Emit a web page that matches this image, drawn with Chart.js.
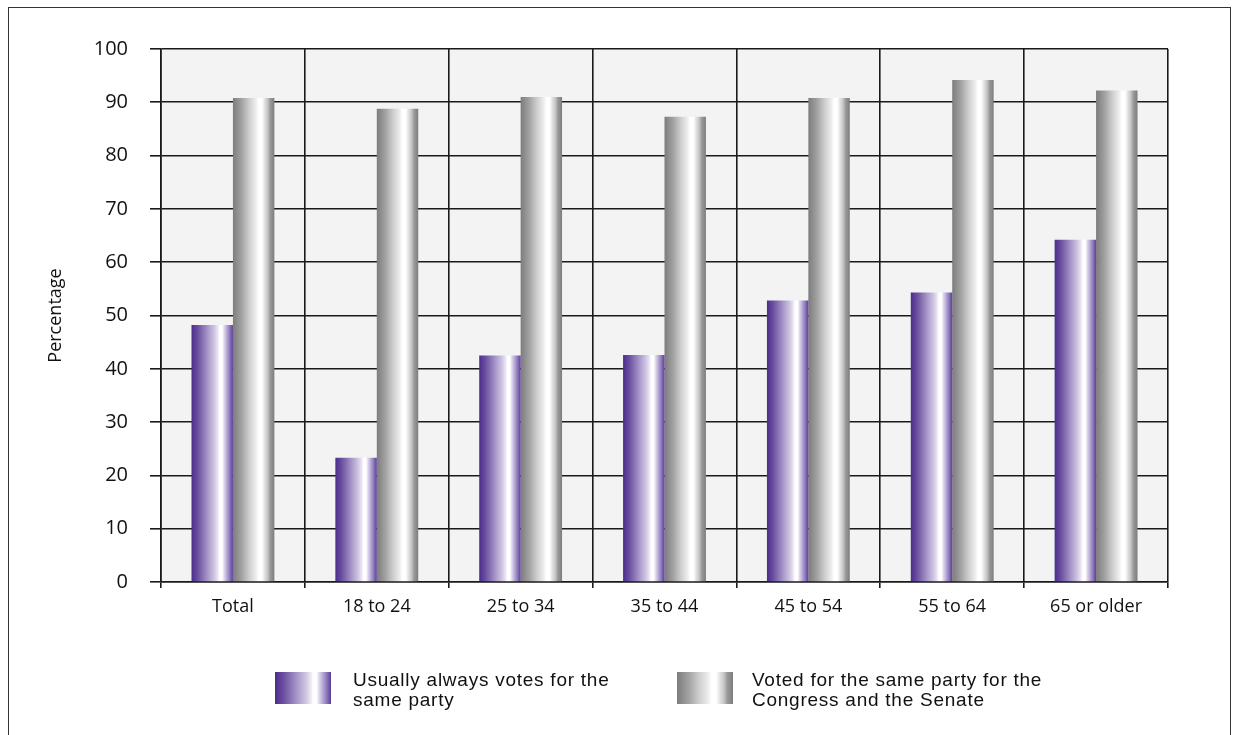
<!DOCTYPE html>
<html lang="en">
<head>
    <meta charset="UTF-8">
    <title>Same-party voting by age</title>
    <script src="https://cdn.jsdelivr.net/npm/chart.js"></script>
    <style>
        html, body { margin: 0; padding: 0; background: #fff; }
        #wrap { position: relative; width: 1233px; height: 735px; overflow: hidden; }
        #frame {
            position: absolute; left: 8px; top: 7px; width: 1223px; height: 760px;
            border: 1px solid #333; box-sizing: border-box;
        }
        #chart { position: absolute; left: 0; top: 0; }
        .legend-box { position: absolute; width: 56px; height: 32px; top: 672px; }
        .legend-text {
            position: absolute; top: 670px;
            font-family: "Liberation Sans", Arial, sans-serif;
            font-size: 19px; line-height: 20px; color: #111; letter-spacing: 0.75px;
        }
    </style>
</head>
<body>
<div id="wrap">
    <div id="frame"></div>
    <canvas id="chart" width="1233" height="735"></canvas>
    <div class="legend-box" id="box0" style="left:275px"></div>
    <div class="legend-text" style="left:353px">Usually always votes for the<br>same party</div>
    <div class="legend-box" id="box1" style="left:677px"></div>
    <div class="legend-text" style="left:752px">Voted for the same party for the<br>Congress and the Senate</div>
</div>
<script>
    // Data
    const categories = ['Total', '18 to 24', '25 to 34', '35 to 44', '45 to 54', '55 to 64', '65 or older'];
    const usuallySameParty = [48.2, 23.3, 42.5, 42.6, 52.8, 54.3, 64.2];
    const congressAndSenate = [90.8, 88.8, 91.0, 87.3, 90.8, 94.2, 92.2];
    const seriesNames = ['Usually always votes for the same party', 'Voted for the same party for the Congress and the Senate'];

    // Cylinder-like horizontal gradients
    const purpleStops = [[0, '#4e2c8a'], [0.15, '#6a4fa0'], [0.35, '#9d8bc2'], [0.55, '#cfc5e2'], [0.64, '#ece8f4'],
        [0.68, '#ffffff'], [0.74, '#ffffff'], [0.79, '#ddd5ec'], [0.86, '#b2a4d2'], [0.93, '#8a74b8'], [1, '#5b3c98']];
    const greyStops = [[0, '#7c7c7c'], [0.2, '#a0a0a0'], [0.4, '#cfcfcf'], [0.55, '#ececec'], [0.62, '#ffffff'],
        [0.7, '#ffffff'], [0.76, '#e4e4e4'], [0.84, '#c4c4c4'], [0.9, '#9a9a9a'], [1, '#7c7c7c']];
    const catPct = 0.576;

    function cssGradient(stops) {
        return 'linear-gradient(to right, ' + stops.map(s => s[1] + ' ' + (s[0] * 100) + '%').join(', ') + ')';
    }
    document.getElementById('box0').style.background = cssGradient(purpleStops);
    document.getElementById('box1').style.background = cssGradient(greyStops);

    function barFill(stops, fallback) {
        return (c) => {
            const chart = c.chart;
            const xs = chart.scales && chart.scales.x;
            if (!xs || !chart.chartArea || c.dataIndex === undefined) return fallback;
            const bw = xs.width / categories.length * catPct / 2;
            const center = xs.getPixelForValue(c.dataIndex);
            const left = c.datasetIndex === 0 ? center - bw : center;
            const g = chart.ctx.createLinearGradient(left, 0, left + bw, 0);
            stops.forEach(([o, col]) => g.addColorStop(o, col));
            return g;
        };
    }

    // Light grey plot background
    const plotBg = {
        id: 'plotBg',
        beforeDraw(chart) {
            const { ctx, chartArea: a } = chart;
            ctx.save();
            ctx.fillStyle = '#f3f3f3';
            ctx.fillRect(a.left, a.top, a.right - a.left, a.bottom - a.top);
            ctx.restore();
        }
    };

    new Chart(document.getElementById('chart').getContext('2d'), {
        type: 'bar',
        data: {
            labels: categories,
            datasets: [
                { label: seriesNames[0], data: usuallySameParty, backgroundColor: barFill(purpleStops, '#7a62ad') },
                { label: seriesNames[1], data: congressAndSenate, backgroundColor: barFill(greyStops, '#b0b0b0') }
            ]
        },
        options: {
            responsive: false,
            animation: false,
            layout: { padding: { top: 49, right: 65, bottom: 0, left: 0 } },
            datasets: { bar: { categoryPercentage: catPct, barPercentage: 1.0 } },
            plugins: { legend: { display: false }, tooltip: { enabled: false } },
            scales: {
                x: {
                    grid: { offset: true, color: '#1a1a1a', lineWidth: 1.6, tickLength: 6 },
                    border: { color: '#1a1a1a', width: 1.6 },
                    ticks: { color: '#111', font: { family: '"Open Sans", sans-serif', size: 18 }, padding: 8, maxRotation: 0 },
                    afterFit(scale) { scale.height = 735 - 582; }
                },
                y: {
                    min: 0, max: 100,
                    ticks: { stepSize: 10, color: '#111', font: { family: '"Open Sans", sans-serif', size: 20 }, padding: 22 },
                    grid: { color: '#1a1a1a', lineWidth: 1.6, tickLength: 11 },
                    border: { color: '#1a1a1a', width: 1.6 },
                    title: { display: true, text: 'Percentage', color: '#111',
                        font: { family: '"Open Sans", sans-serif', size: 18 }, padding: { top: 45, bottom: 0 } },
                    afterFit(scale) { scale.width = 161; }
                }
            }
        },
        plugins: [plotBg]
    });
</script>
</body>
</html>
